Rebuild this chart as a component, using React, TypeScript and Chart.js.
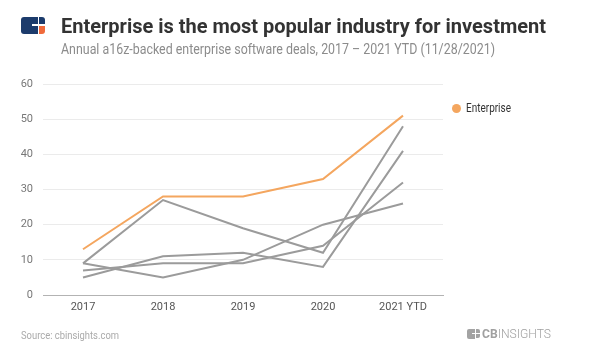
import React, { useEffect, useLayoutEffect, useRef } from "react";
import { Chart, registerables } from "chart.js";

Chart.register(...registerables);

// ---- Data ----
const categories = ["2017", "2018", "2019", "2020", "2021 YTD"];
const enterpriseDeals = [13, 28, 28, 33, 51];
const otherIndustryA = [9, 27, 19, 12, 48];
const otherIndustryB = [9, 5, 10, 20, 26];
const otherIndustryC = [7, 9, 9, 14, 32];
const otherIndustryD = [5, 11, 12, 8, 41];
const yTickMin = 0;
const yTickMax = 60;
const yTickStep = 10;

const titleText = "Enterprise is the most popular industry for investment";
const subtitleText = "Annual a16z-backed enterprise software deals, 2017 – 2021 YTD (11/28/2021)";
const sourceText = "Source: cbinsights.com";

const ORANGE = "#f4a65f";
const GRAY = "#9b9b9b";

function FitText({ text, width, style, children }: any) {
  const ref = useRef<HTMLSpanElement>(null);
  useLayoutEffect(() => {
    const el = ref.current;
    if (!el) return;
    el.style.transform = "none";
    const w = el.getBoundingClientRect().width;
    if (w > 0) el.style.transform = `scaleX(${width / w})`;
  }, [text, width]);
  return (
    <span
      ref={ref}
      style={{
        position: "absolute",
        whiteSpace: "nowrap",
        transformOrigin: "0 0",
        display: "inline-block",
        ...style,
      }}
    >
      {children ?? text}
    </span>
  );
}

export default function App() {
  const canvasRef = useRef<HTMLCanvasElement>(null);

  useEffect(() => {
    if (!canvasRef.current) return;
    const chart = new Chart(canvasRef.current, {
      type: "line",
      data: {
        labels: categories,
        datasets: [
          { label: "Enterprise", data: enterpriseDeals, borderColor: ORANGE, backgroundColor: ORANGE },
          { label: "Industry A", data: otherIndustryA, borderColor: GRAY, backgroundColor: GRAY },
          { label: "Industry B", data: otherIndustryB, borderColor: GRAY, backgroundColor: GRAY },
          { label: "Industry C", data: otherIndustryC, borderColor: GRAY, backgroundColor: GRAY },
          { label: "Industry D", data: otherIndustryD, borderColor: GRAY, backgroundColor: GRAY },
        ].map((d) => ({ ...d, borderWidth: 2, pointRadius: 0, tension: 0, fill: false })),
      },
      options: {
        animation: false,
        responsive: false,
        maintainAspectRatio: false,
        layout: { padding: { top: 84, right: 157, left: 0, bottom: 0 } },
        plugins: { legend: { display: false }, tooltip: { enabled: false } },
        scales: {
          x: {
            offset: true,
            grid: { display: true, color: "rgba(0,0,0,0)", drawTicks: false },
            border: { display: true, color: "#b3b3b3", width: 1 },
            ticks: {
              font: { family: "Roboto", size: 11 },
              color: "#555555",
              padding: 6,
              maxRotation: 0,
              autoSkip: false,
            },
            afterFit: (s: any) => {
              s.height = 59;
            },
          },
          y: {
            min: yTickMin,
            max: yTickMax,
            ticks: {
              stepSize: yTickStep,
              font: { family: "Roboto", size: 11 },
              color: "#777777",
              padding: 10,
            },
            grid: {
              drawTicks: false,
              color: (ctx: any) => (ctx.tick && ctx.tick.value === 0 ? "rgba(0,0,0,0)" : "#ebebeb"),
            },
            border: { display: false },
            afterFit: (s: any) => {
              s.width = 43;
            },
          },
        },
      },
    });
    return () => chart.destroy();
  }, []);

  return (
    <div
      style={{
        position: "absolute",
        left: 0,
        top: 0,
        width: 600,
        height: 354,
        background: "#fff",
        fontFamily: "Roboto, sans-serif",
        overflow: "hidden",
      }}
    >
      <canvas
        ref={canvasRef}
        width={600}
        height={354}
        style={{ position: "absolute", left: 0, top: 0, width: 600, height: 354 }}
      />
      {/* top-left logo */}
      <div style={{ position: "absolute", left: 21, top: 17, width: 16.5, height: 16.5, background: "#1c3b6c", borderRadius: "3px 0 0 3px" }} />
      <div style={{ position: "absolute", left: 32, top: 24.2, width: 5.5, height: 2, background: "#fff" }} />
      <div style={{ position: "absolute", left: 39, top: 17, width: 6, height: 6.5, background: "#1c3b6c", borderRadius: "0 3px 0 0" }} />
      <div style={{ position: "absolute", left: 39, top: 25.5, width: 6, height: 8, background: "#f06a3b", borderRadius: "0 0 3px 0" }} />

      <FitText
        text={titleText}
        width={485}
        style={{ left: 61, top: 15.6, fontSize: 21, lineHeight: "21px", fontWeight: 700, color: "#333333" }}
      />
      <FitText
        text={subtitleText}
        width={434}
        style={{ left: 61, top: 42.2, fontSize: 14, lineHeight: "14px", fontWeight: 400, color: "#8c8c8c" }}
      />

      {/* legend */}
      <div style={{ position: "absolute", left: 451.5, top: 103.5, width: 9, height: 9, borderRadius: "50%", background: ORANGE }} />
      <FitText
        text="Enterprise"
        width={45}
        style={{ left: 465.7, top: 101.5, fontSize: 12, lineHeight: "12px", color: "#333333" }}
      />

      {/* footer */}
      <FitText
        text={sourceText}
        width={98}
        style={{ left: 20.7, top: 329.7, fontSize: 11, lineHeight: "11px", color: "#aaaaaa" }}
      />
      <div style={{ position: "absolute", left: 466.7, top: 329, width: 8, height: 9.5, background: "#a3a3a3", borderRadius: "2px 0 0 2px" }} />
      <div style={{ position: "absolute", left: 471.5, top: 333, width: 3.2, height: 1.3, background: "#fff" }} />
      <div style={{ position: "absolute", left: 475.7, top: 329, width: 4.3, height: 4, background: "#a3a3a3", borderRadius: "0 2px 0 0" }} />
      <div style={{ position: "absolute", left: 475.7, top: 334.3, width: 4.3, height: 4.2, background: "#a3a3a3", borderRadius: "0 0 2px 0" }} />
      <FitText
        text="CBINSIGHTS"
        width={69}
        style={{ left: 481.7, top: 327.3, fontSize: 13, lineHeight: "13px", color: "#a0a0a0" }}
      >
        <span style={{ fontWeight: 700 }}>CB</span>
        <span style={{ fontWeight: 300 }}>INSIGHTS</span>
      </FitText>
    </div>
  );
}
